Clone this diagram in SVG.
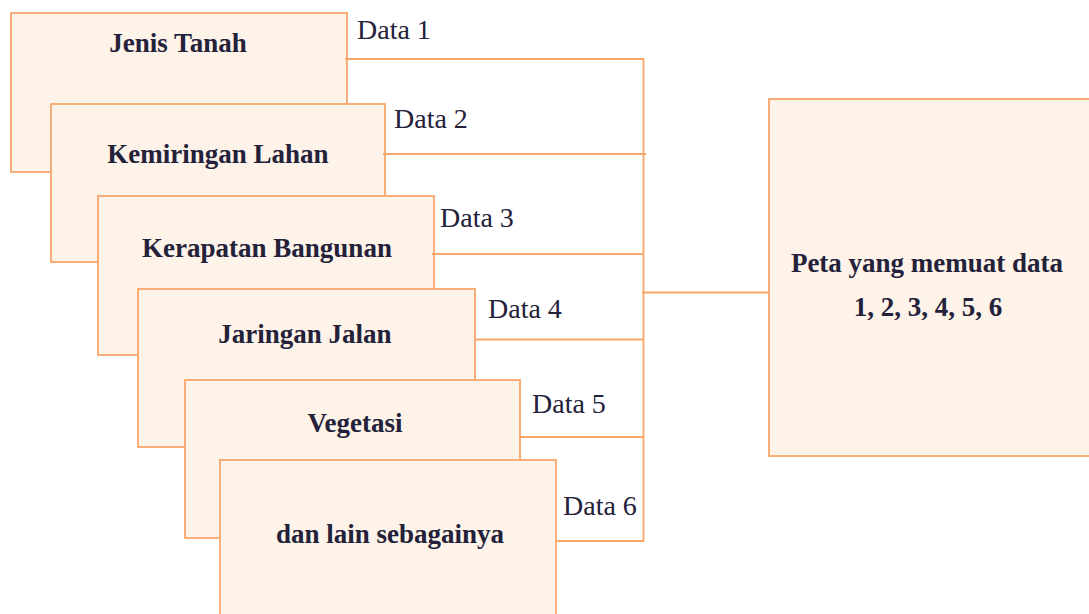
<svg xmlns="http://www.w3.org/2000/svg" width="1089" height="614" viewBox="0 0 1089 614">
<style>
.box{fill:#FDF3E8;stroke:#F9A66C;stroke-width:1.8}
.ln{stroke:#F9A66C;stroke-width:1.8;fill:none}
.lbl{font-family:"Liberation Serif",serif;font-size:27px;font-weight:bold;fill:#24213A;text-anchor:middle}
.dat{font-family:"Liberation Serif",serif;font-size:28px;fill:#24213A}
</style>
<rect width="1089" height="614" fill="#FFFFFF"/>
<g id="node-jenis-tanah">
<rect class="box" x="11" y="13" width="336" height="159"/>
<text class="lbl" x="178" y="52">Jenis Tanah</text>
</g>
<g id="node-kemiringan-lahan">
<rect class="box" x="51" y="104" width="334" height="158"/>
<text class="lbl" x="218" y="163">Kemiringan Lahan</text>
</g>
<g id="node-kerapatan-bangunan">
<rect class="box" x="98" y="196" width="336" height="159"/>
<text class="lbl" x="267" y="257">Kerapatan Bangunan</text>
</g>
<g id="node-jaringan-jalan">
<rect class="box" x="138" y="289" width="337" height="158"/>
<text class="lbl" x="305" y="343">Jaringan Jalan</text>
</g>
<g id="node-vegetasi">
<rect class="box" x="185" y="380" width="335" height="158"/>
<text class="lbl" x="355" y="432">Vegetasi</text>
</g>
<g id="node-lain">
<rect class="box" x="220" y="460" width="336" height="170"/>
<text class="lbl" x="390" y="543">dan lain sebagainya</text>
</g>
<g id="node-peta">
<rect class="box" x="769" y="99" width="330" height="357"/>
<text class="lbl" x="927" y="272">Peta yang memuat data</text>
<text class="lbl" x="928" y="316">1, 2, 3, 4, 5, 6</text>
</g>
<g id="connectors">
<line class="ln" x1="345" y1="59" x2="644" y2="59"/>
<line class="ln" x1="383" y1="154" x2="646" y2="154"/>
<line class="ln" x1="432" y1="254" x2="644" y2="254"/>
<line class="ln" x1="475" y1="339.5" x2="644" y2="339.5"/>
<line class="ln" x1="520" y1="437" x2="644" y2="437"/>
<line class="ln" x1="556" y1="541" x2="644" y2="541"/>
<line class="ln" x1="643.5" y1="58" x2="643.5" y2="542"/>
<line class="ln" x1="642" y1="292.5" x2="769" y2="292.5"/>
<text class="dat" x="357" y="39">Data 1</text>
<text class="dat" x="394" y="128">Data 2</text>
<text class="dat" x="440" y="227">Data 3</text>
<text class="dat" x="488" y="318">Data 4</text>
<text class="dat" x="532" y="413">Data 5</text>
<text class="dat" x="563" y="515">Data 6</text>
</g>
</svg>
